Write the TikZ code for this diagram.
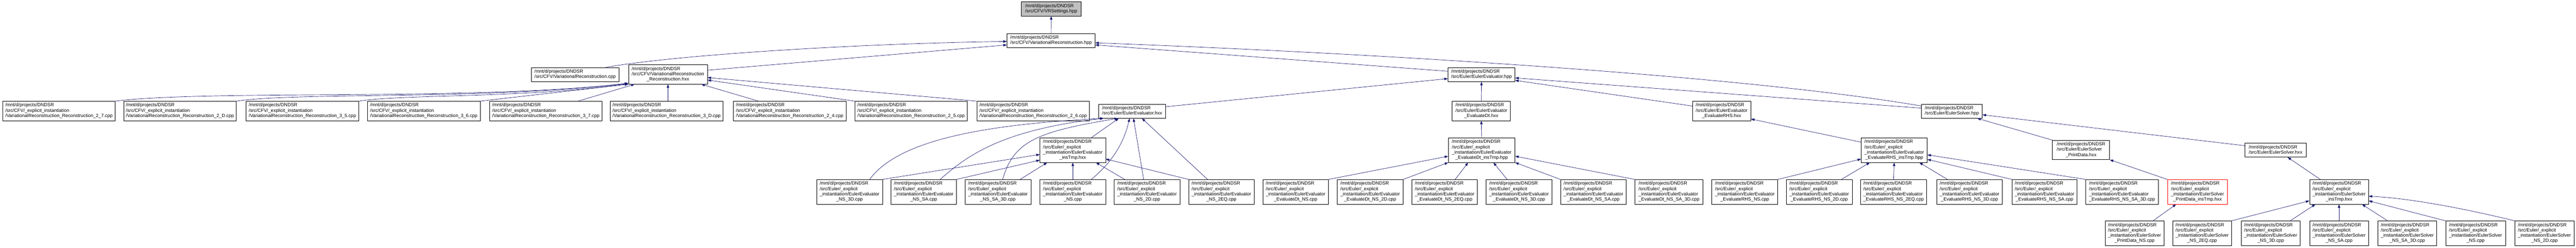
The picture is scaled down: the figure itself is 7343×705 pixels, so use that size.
\documentclass[tikz,border=0pt]{standalone}
\usepackage{fontspec}
\setmainfont{Liberation Sans}
\usetikzlibrary{arrows.meta,calc}
\definecolor{edgeblue}{HTML}{191970}
\definecolor{rootgray}{HTML}{BFBFBF}
\newcommand{\pre}{/mnt/d/projects/DNDSR}
\newcommand{\twoline}[2]{\begin{tabular}{@{}l@{}}#1\\\multicolumn{1}{@{}c@{}}{#2}\end{tabular}}
\newcommand{\threeline}[3]{\begin{tabular}{@{}l@{}}#1\\#2\\\multicolumn{1}{@{}c@{}}{#3}\end{tabular}}
\newcommand{\fourline}[4]{\begin{tabular}{@{}l@{}}#1\\#2\\#3\\\multicolumn{1}{@{}c@{}}{#4}\end{tabular}}
\newcommand{\cfvleaf}[1]{\threeline{\pre}{/src/CFV/\_explicit\_instantiation}{/VariationalReconstruction\_Reconstruction\_#1.cpp}}
\newcommand{\eel}[1]{\fourline{\pre}{/src/Euler/\_explicit}{\_instantiation/EulerEvaluator}{\_#1}}
\newcommand{\esl}[1]{\fourline{\pre}{/src/Euler/\_explicit}{\_instantiation/EulerSolver}{\_#1}}
\begin{document}
\begin{tikzpicture}[x=0.75pt,y=-0.75pt,
  box/.style={draw=black, fill=white, line width=0.75pt, inner sep=0pt, anchor=north west, font=\fontsize{10}{11.25}\selectfont},
  bw/.style={minimum width=#1*0.75pt},
  h2/.style={minimum height=30pt},
  h3/.style={minimum height=41.25pt},
  h4/.style={minimum height=52.5pt},
  dep/.style={draw=edgeblue, line width=0.75pt, -{Triangle[length=7.5pt,width=5.25pt]}}]
\fill[white] (0,0) rectangle (7343,705);
\useasboundingbox (0,0) rectangle (7343,705);

% ---- nodes ----
\node[box,fill=rootgray,bw=170,h2] (N0) at (2911,5) {\twoline{\pre}{/src/CFV/VRSettings.hpp}};
\node[box,bw=251,h2] (N1) at (2870,95) {\twoline{\pre}{/src/CFV/VariationalReconstruction.hpp}};
\node[box,bw=250,h2] (N2) at (1514,192) {\twoline{\pre}{/src/CFV/VariationalReconstruction.cpp}};
\node[box,bw=225,h3] (N3) at (1791,184) {\threeline{\pre}{/src/CFV/VariationalReconstruction}{\_Reconstruction.hxx}};
\node[box,bw=321,h3] (L1) at (7,288) {\cfvleaf{2\_7}};
\node[box,bw=321,h3] (L2) at (352,288) {\cfvleaf{2\_D}};
\node[box,bw=321,h3] (L3) at (701,288) {\cfvleaf{3\_5}};
\node[box,bw=321,h3] (L4) at (1047,288) {\cfvleaf{3\_6}};
\node[box,bw=321,h3] (L5) at (1395,288) {\cfvleaf{3\_7}};
\node[box,bw=321,h3] (L6) at (1739,288) {\cfvleaf{3\_D}};
\node[box,bw=321,h3] (L7) at (2090,288) {\cfvleaf{2\_4}};
\node[box,bw=321,h3] (L8) at (2436,288) {\cfvleaf{2\_5}};
\node[box,bw=321,h3] (L9) at (2784,288) {\cfvleaf{2\_6}};
\node[box,bw=191,h2] (N4) at (3131,296) {\twoline{\pre}{/src/Euler/EulerEvaluator.hxx}};
\node[box,bw=191,h2] (N5) at (4127,192) {\twoline{\pre}{/src/Euler/EulerEvaluator.hpp}};
\node[box,bw=166,h3] (N6) at (4139,288) {\threeline{\pre}{/src/Euler/EulerEvaluator}{\_EvaluateDt.hxx}};
\node[box,bw=166,h3] (N7) at (4824,288) {\threeline{\pre}{/src/Euler/EulerEvaluator}{\_EvaluateRHS.hxx}};
\node[box,bw=173,h2] (N8) at (5477,296) {\twoline{\pre}{/src/Euler/EulerSolver.hpp}};
\node[box,bw=187,h4] (N9) at (2964,392) {\eel{insTmp.hxx}};
\node[box,bw=190,h4] (N10) at (4128,392) {\eel{EvaluateDt\_insTmp.hpp}};
\node[box,bw=188,h4] (N11) at (5305,392) {\eel{EvaluateRHS\_insTmp.hpp}};
\node[box,bw=163,h3] (N12) at (5850,399) {\threeline{\pre}{/src/Euler/EulerSolver}{\_PrintData.hxx}};
\node[box,bw=174,h2] (N13) at (6399,407) {\twoline{\pre}{/src/Euler/EulerSolver.hxx}};
\node[box,bw=188,h4] (E1) at (2327,511) {\eel{NS\_3D.cpp}};
\node[box,bw=187,h4] (E2) at (2539,511) {\eel{NS\_SA.cpp}};
\node[box,bw=188,h4] (E3) at (2750,511) {\eel{NS\_SA\_3D.cpp}};
\node[box,bw=187,h4] (E4) at (2964,511) {\eel{NS.cpp}};
\node[box,bw=188,h4] (E5) at (3175,511) {\eel{NS\_2D.cpp}};
\node[box,bw=186,h4] (E6) at (3388,511) {\eel{NS\_2EQ.cpp}};
\node[box,bw=187,h4] (D1) at (3599,511) {\eel{EvaluateDt\_NS.cpp}};
\node[box,bw=188,h4] (D2) at (3811,511) {\eel{EvaluateDt\_NS\_2D.cpp}};
\node[box,bw=187,h4] (D3) at (4024,511) {\eel{EvaluateDt\_NS\_2EQ.cpp}};
\node[box,bw=187,h4] (D4) at (4236,511) {\eel{EvaluateDt\_NS\_3D.cpp}};
\node[box,bw=187,h4] (D5) at (4448,511) {\eel{EvaluateDt\_NS\_SA.cpp}};
\node[box,bw=194,h4] (D6) at (4660,511) {\eel{EvaluateDt\_NS\_SA\_3D.cpp}};
\node[box,bw=188,h4] (R1) at (4879,511) {\eel{EvaluateRHS\_NS.cpp}};
\node[box,bw=188,h4] (R2) at (5091,511) {\eel{EvaluateRHS\_NS\_2D.cpp}};
\node[box,bw=188,h4] (R3) at (5303,511) {\eel{EvaluateRHS\_NS\_2EQ.cpp}};
\node[box,bw=187,h4] (R4) at (5520,511) {\eel{EvaluateRHS\_NS\_3D.cpp}};
\node[box,bw=185,h4] (R5) at (5735,511) {\eel{EvaluateRHS\_NS\_SA.cpp}};
\node[box,bw=207,h4] (R6) at (5945,511) {\eel{EvaluateRHS\_NS\_SA\_3D.cpp}};
\node[box,bw=171,h4,draw=red] (P) at (6178,511) {\esl{PrintData\_insTmp.hxx}};
\node[box,bw=168,h4] (S) at (6583,511) {\esl{insTmp.hxx}};
\node[box,bw=168,h4] (S1) at (6000,629) {\esl{PrintData\_NS.cpp}};
\node[box,bw=167,h4] (S2) at (6193,629) {\esl{NS\_2EQ.cpp}};
\node[box,bw=168,h4] (S3) at (6388,629) {\esl{NS\_3D.cpp}};
\node[box,bw=168,h4] (S4) at (6583,629) {\esl{NS\_SA.cpp}};
\node[box,bw=167,h4] (S5) at (6778,629) {\esl{NS\_SA\_3D.cpp}};
\node[box,bw=170,h4] (S6) at (6971,629) {\esl{NS.cpp}};
\node[box,bw=169,h4] (S7) at (7168,629) {\esl{NS\_2D.cpp}};

% ---- edges ----
\draw[dep] (N1.north) -- (N0.south);
\draw[dep] ($(N2.north west)+(213,0)$) .. controls (1900,160) and (2400,125) .. ($(N1.north west)+(0,23)$);
\draw[dep] ($(N3.north east)+(0,16)$) -- ($(N1.north west)+(0,33)$);
\draw[dep] (L1.north east) .. controls (600,255) and (1350,288) .. ($(N3.south west)+(0,-3)$);
\draw[dep] (L2.north east) .. controls (850,262) and (1400,285) .. ($(N3.south west)+(0,-3)$);
\draw[dep] (L3.north east) .. controls (1150,268) and (1500,280) .. ($(N3.south west)+(0,-2)$);
\draw[dep] (L4.north east) -- (N3.south west);
\draw[dep] ($(L5.north west)+(253,0)$) -- ($(N3.south west)+(18,0)$);
\draw[dep] ($(L6.north west)+(165,0)$) -- ($(N3.south west)+(113,0)$);
\draw[dep] ($(L7.north west)+(72,0)$) -- ($(N3.south west)+(208,0)$);
\draw[dep] (L8.north west) -- ($(N3.south east)+(0,-12)$);
\draw[dep] (L9.north west) -- ($(N3.south east)+(0,-19)$);

\draw[dep] ($(N4.north east)+(0,8)$) -- ($(N5.north west)+(0,32)$);
\draw[dep] ($(N5.north west)+(0,11)$) -- ($(N1.north east)+(0,33)$);
\draw[dep] ($(N8.north west)+(0,6)$) .. controls (5000,220) and (4000,155) .. ($(N1.north east)+(0,27)$);
\draw[dep] ($(N8.north west)+(0,12)$) -- ($(N5.north east)+(0,30)$);
\draw[dep] ($(N7.north west)+(0,14)$) -- ($(N5.north east)+(0,37)$);
\draw[dep] (N6.north) -- (N5.south);
\draw[dep] (N10.north) -- (N6.south);
\draw[dep] ($(N11.north west)+(0,13)$) -- ($(N7.south east)+(0,-5)$);
\draw[dep] (N12.north west) -- ($(N8.south east)+(-15,0)$);
\draw[dep] ($(N13.north west)+(0,8)$) -- ($(N8.north east)+(0,31)$);
\draw[dep] (P.north west) -- (N12.south east);
\draw[dep] ($(S.north west)+(31,0)$) -- ($(N13.south west)+(122,0)$);
\draw[dep] ($(S1.north west)+(137,0)$) -- ($(P.south west)+(25,0)$);
\draw[dep] (S2.north east) -- ($(S.south west)+(0,-10)$);
\draw[dep] ($(S3.north west)+(140,0)$) -- ($(S.south west)+(17,0)$);
\draw[dep] (S4.north) -- (S.south);
\draw[dep] ($(S5.north west)+(28,0)$) -- ($(S.south west)+(150,0)$);
\draw[dep] (S6.north west) -- ($(S.south east)+(0,-10)$);
\draw[dep] (S7.north west) .. controls (7050,600) and (6880,565) .. ($(S.south east)+(0,-23)$);

\draw[dep] ($(N9.north west)+(147,0)$) -- ($(N4.south west)+(58,0)$);
\draw[dep] ($(E1.north west)+(152,0)$) .. controls (2560,400) and (2800,355) .. ($(N4.south west)+(15,0)$);
\draw[dep] ($(E2.north west)+(141,0)$) .. controls (2760,440) and (2860,370) .. ($(N4.south west)+(15,0)$);
\draw[dep] ($(E3.north west)+(108,0)$) .. controls (2890,400) and (2960,375) .. ($(N4.south west)+(56,0)$);
\draw[dep] ($(E4.north west)+(147,0)$) .. controls (3160,470) and (3200,420) .. ($(N4.south west)+(89,0)$);
\draw[dep] ($(E5.north west)+(85,0)$) -- ($(N4.south west)+(100,0)$);
\draw[dep] ($(E6.north west)+(54,0)$) -- ($(N4.south west)+(124,0)$);

\draw[dep] (E1.north east) -- ($(N9.north west)+(0,48)$);
\draw[dep] (E2.north east) -- ($(N9.south west)+(0,-7)$);
\draw[dep] ($(E3.north west)+(158,0)$) -- ($(N9.south west)+(21,0)$);
\draw[dep] (E4.north) -- (N9.south);
\draw[dep] ($(E5.north west)+(31,0)$) -- ($(N9.south west)+(160,0)$);
\draw[dep] (E6.north west) -- ($(N9.south east)+(0,-10)$);

\draw[dep] (D1.north east) -- ($(N10.north west)+(0,53)$);
\draw[dep] (D2.north east) -- (N10.south west);
\draw[dep] ($(D3.north west)+(124,0)$) -- ($(N10.south west)+(57,0)$);
\draw[dep] ($(D4.north west)+(60,0)$) -- ($(N10.south west)+(129,0)$);
\draw[dep] (D5.north west) -- (N10.south east);
\draw[dep] (D6.north west) -- ($(N10.north east)+(0,53)$);

\draw[dep] (R1.north east) -- ($(N11.south west)+(0,-10)$);
\draw[dep] ($(R2.north west)+(158,0)$) -- ($(N11.south west)+(25,0)$);
\draw[dep] (R3.north) -- (N11.south);
\draw[dep] ($(R4.north west)+(31,0)$) -- ($(N11.south west)+(166,0)$);
\draw[dep] (R5.north west) -- ($(N11.south east)+(0,-9)$);
\draw[dep] (R6.north west) -- ($(N11.south east)+(0,-22)$);
\end{tikzpicture}
\end{document}
